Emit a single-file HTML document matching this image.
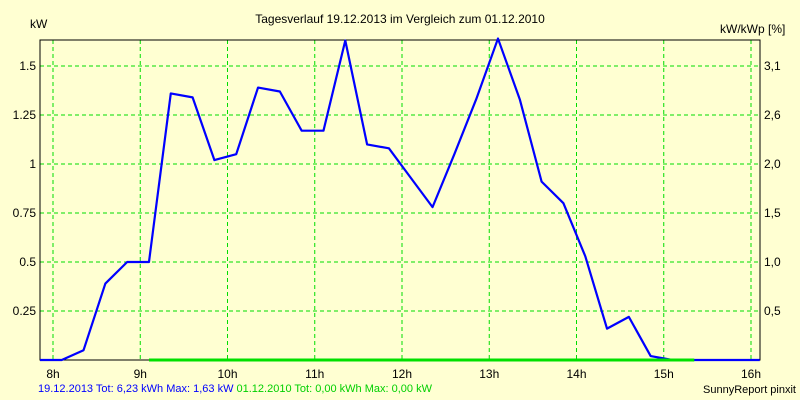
<!DOCTYPE html>
<html><head><meta charset="utf-8"><style>
body{margin:0;background:#ffffd2;}
svg{display:block;font-family:"Liberation Sans",sans-serif;font-size:12px;}
</style></head><body>
<svg id="c" width="800" height="400">
<rect x="0" y="0" width="800" height="400" fill="#ffffd2"/>
<text x="400" y="23" text-anchor="middle">Tagesverlauf 19.12.2013 im Vergleich zum 01.12.2010</text>
<text x="30" y="28">kW</text>
<text x="720" y="33">kW/kWp [%]</text>
<g id="grid"></g><g id="axes"></g><g id="series"></g>
<text x="38" y="392" font-size="11"><tspan fill="#0000ff">19.12.2013 Tot: 6,23 kWh Max: 1,63 kW </tspan><tspan fill="#00d000">01.12.2010 Tot: 0,00 kWh Max: 0,00 kW</tspan></text>
<text x="796" y="393" text-anchor="end" font-size="11">SunnyReport pinxit</text>
</svg>
<script>
const hourTicks=[8,9,10,11,12,13,14,15,16];
const kwTicks=[0.25,0.5,0.75,1,1.25,1.5];
const kwTickLabels=["0.25","0.5","0.75","1","1.25","1.5"];
const pctTickLabels=["0,5","1,0","1,5","2,0","2,6","3,1"];
const times2013=[7.85,8.1,8.35,8.6,8.85,9.1,9.35,9.6,9.85,10.1,10.35,10.6,10.85,11.1,11.35,11.6,11.85,12.1,12.35,12.6,12.85,13.1,13.35,13.6,13.85,14.1,14.35,14.6,14.85,15.1,16.1];
const values2013=[0,0,0.05,0.39,0.5,0.5,1.36,1.34,1.02,1.05,1.39,1.37,1.17,1.17,1.63,1.10,1.08,0.93,0.78,1.05,1.33,1.64,1.33,0.91,0.80,0.53,0.16,0.22,0.02,0,0];
const times2010=[9.1,15.35];
const values2010=[0,0];
const L=40,R=760,T=40,B=360;
const X=h=>53+(h-8)*87.25;
const Y=v=>B-v*196;
const clampX=x=>Math.max(L,Math.min(R,x));
const NS="http://www.w3.org/2000/svg";
function mk(tag,attrs,parent){const e=document.createElementNS(NS,tag);for(const k in attrs)e.setAttribute(k,attrs[k]);parent.appendChild(e);return e;}
const grid=document.getElementById('grid'),axes=document.getElementById('axes'),ser=document.getElementById('series');
hourTicks.forEach(h=>{
 const l=mk('line',{x1:X(h),x2:X(h),y1:T,y2:B,stroke:'#00dd00','stroke-dasharray':'4,3'},grid);
 
 
 const t=mk('text',{x:X(h),y:378,'text-anchor':'middle'},axes);t.textContent=h+'h';
 
 
});
kwTicks.forEach((v,i)=>{
 const l=mk('line',{x1:L,x2:R,y1:Y(v),y2:Y(v),stroke:'#00dd00','stroke-dasharray':'4,3'},grid);
 
 
 const t=mk('text',{x:36,y:Y(v)+4,'text-anchor':'end'},axes);t.textContent=kwTickLabels[i];
 
 
 const t2=mk('text',{x:764,y:Y(v)+4},axes);t2.textContent=pctTickLabels[i];
 
 
});
const ax=mk('path',{d:`M${L},${T}H${R}V${B}H${L}Z`,fill:'none',stroke:'#000'},axes);


const p1=mk('polyline',{points:times2013.map((t,i)=>clampX(X(t))+','+Y(values2013[i])).join(' '),fill:'none',stroke:'#0000ff','stroke-width':2.2,'stroke-linejoin':'round'},ser);


const p2=mk('polyline',{points:times2010.map((t,i)=>clampX(X(t))+','+Y(values2010[i])).join(' '),fill:'none',stroke:'#00e000','stroke-width':3},ser);


</script>
</body></html>
